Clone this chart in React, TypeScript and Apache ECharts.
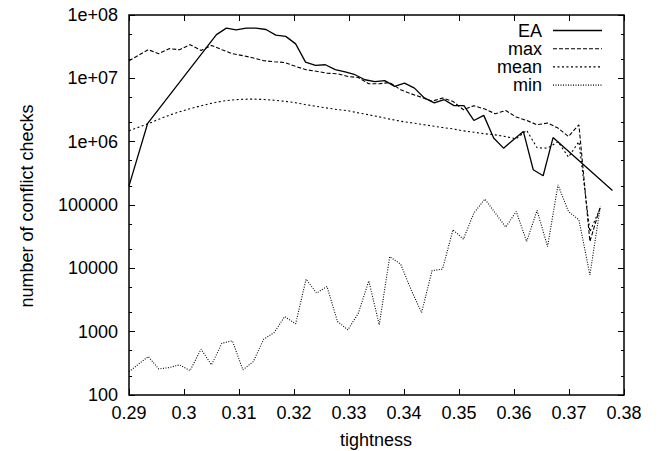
import React, { useEffect, useRef } from "react";
import * as echarts from "echarts";

// ---- data ----
const TIGHTNESS = [
  0.29, 0.2935, 0.2954, 0.2973, 0.2992, 0.3011, 0.3031, 0.305, 0.3069, 0.3088,
  0.3107, 0.3126, 0.3145, 0.3164, 0.3183, 0.3203, 0.3222, 0.3241, 0.326, 0.3279,
  0.3298, 0.3317, 0.3336, 0.3355, 0.3374, 0.3394, 0.3413, 0.3432, 0.3451, 0.347,
  0.3489, 0.3508, 0.3527, 0.3547, 0.3566, 0.3585, 0.3604, 0.3623, 0.3642, 0.3661,
  0.368, 0.3699, 0.3718, 0.3738, 0.3757,
];

const MAX_CHECKS = [
  1.9e7, 2.83e7, 2.45e7, 2.94e7, 2.83e7, 3.4e7, 2.76e7, 3.31e7, 2.83e7, 2.45e7,
  2.28e7, 2.1e7, 1.9e7, 1.83e7, 1.78e7, 1.54e7, 1.37e7, 1.29e7, 1.21e7, 1.18e7,
  1.07e7, 1.03e7, 8.2e6, 8.2e6, 8.6e6, 6.6e6, 5.7e6, 5.0e6, 4.35e6, 4.89e6,
  4.32e6, 3.19e6, 3.69e6, 3.27e6, 2.76e6, 3.11e6, 2.45e6, 2.16e6, 1.85e6, 1.97e6,
  1.64e6, 1.21e6, 1.85e6, 2.65e4, 9.5e4,
];

const MEAN_CHECKS = [
  1.49e6, 1.92e6, 2.26e6, 2.61e6, 2.97e6, 3.31e6, 3.69e6, 4.04e6, 4.35e6, 4.56e6,
  4.68e6, 4.7e6, 4.63e6, 4.51e6, 4.35e6, 4.12e6, 3.83e6, 3.6e6, 3.4e6, 3.21e6,
  3.08e6, 2.85e6, 2.66e6, 2.46e6, 2.27e6, 2.1e6, 1.99e6, 1.88e6, 1.77e6, 1.67e6,
  1.59e6, 1.48e6, 1.41e6, 1.33e6, 1.28e6, 1.2e6, 1.11e6, 1.51e6, 8.0e5, 7.9e5,
  1.0e6, 5.7e5, 1.0e6, 3.8e4, 9.0e4,
];

const MIN_CHECKS = [
  234, 405, 258, 271, 299, 243, 530, 299, 658, 716,
  249, 337, 762, 968, 1730, 1330, 6750, 4060, 5170, 1450,
  1070, 1960, 6350, 1280, 15300, 11600, 4570, 2000, 9200, 9700,
  40600, 28900, 74500, 124000, 74500, 44800, 79000, 26500, 82000, 22100,
  208000, 79000, 58300, 7900, 95000,
];

const EA_TIGHTNESS = [
  0.29, 0.2934, 0.3059, 0.3077, 0.3095, 0.3113, 0.3131, 0.3149, 0.3167, 0.3185,
  0.3203, 0.3221, 0.3239, 0.3257, 0.3275, 0.3293, 0.3311, 0.3329, 0.3347, 0.3365,
  0.3383, 0.3401, 0.3419, 0.3437, 0.3455, 0.3473, 0.3491, 0.3509, 0.3527, 0.3545,
  0.3563, 0.3581, 0.3599, 0.3617, 0.3635, 0.3653, 0.3671, 0.3779,
];

const EA_CHECKS = [
  2.0e5, 1.95e6, 4.9e7, 6.2e7, 5.8e7, 6.2e7, 6.2e7, 5.9e7, 4.8e7, 4.6e7,
  3.5e7, 1.8e7, 1.6e7, 1.64e7, 1.37e7, 1.26e7, 1.14e7, 9.5e6, 8.9e6, 9.2e6,
  7.45e6, 8.4e6, 7.0e6, 4.9e6, 4.1e6, 4.6e6, 3.7e6, 3.7e6, 2.16e6, 2.6e6,
  1.14e6, 7.9e5, 1.07e6, 1.45e6, 3.6e5, 2.9e5, 1.16e6, 1.7e5,
];

const SERIES_NAMES = ["EA", "max", "mean", "min"];
const Y_TICK_VALUES = [100, 1000, 10000, 100000, 1e6, 1e7, 1e8];
const Y_TICK_LABELS = ["100", "1000", "10000", "100000", "1e+06", "1e+07", "1e+08"];
const X_TITLE = "tightness";
const Y_TITLE = "number of conflict checks";

// minor ticks at 2x and 5x of each decade (in log10 units)
const MINOR_LOG: number[] = [];
for (let d = 2; d < 8; d++) {
  MINOR_LOG.push(d + Math.log10(2), d + Math.log10(5));
}

const FONT = "'Liberation Sans', Arial, Helvetica, sans-serif";

const pairs = (xs: number[], ys: number[]) => xs.map((x, i) => [x, ys[i]]);

const DASHES: Record<string, number[] | null> = {
  EA: null,
  max: [4, 2],
  mean: [2, 2.5],
  min: [1, 1.5],
};

export default function App() {
  const ref = useRef<HTMLDivElement>(null);

  useEffect(() => {
    if (!ref.current) return;
    const chart = echarts.init(ref.current, undefined, { renderer: "svg" });

    const yLabel = (v: number) => {
      const idx = Y_TICK_VALUES.findIndex((t) => Math.abs(Math.log10(t) - Math.log10(v)) < 1e-6);
      return idx >= 0 ? Y_TICK_LABELS[idx] : "";
    };

    const lineStyleFor = (name: string) => {
      const dash = DASHES[name];
      return {
        color: "#000",
        width: name === "EA" ? 1.3 : 1.1,
        type: dash ? dash : "solid",
      };
    };

    const legendTop = 30.5;
    const legendStep = 18.2;
    const legendGraphics: any[] = [];
    SERIES_NAMES.forEach((name, i) => {
      const y = legendTop + i * legendStep;
      legendGraphics.push({
        type: "text",
        x: 542,
        y,
        style: {
          text: name,
          fill: "#000",
          font: `18px ${FONT}`,
          textAlign: "right",
          textVerticalAlign: "middle",
        },
      });
      const dash = DASHES[name];
      legendGraphics.push({
        type: "line",
        shape: { x1: 553, y1: y, x2: 602, y2: y },
        style: {
          stroke: "#000",
          lineWidth: name === "EA" ? 1.3 : 1.1,
          lineDash: dash ? dash : null,
        },
      });
    });

    const option: any = {
      animation: false,
      backgroundColor: "#fff",
      grid: {
        left: 129,
        top: 15,
        right: 41,
        bottom: 56,
        show: true,
        borderColor: "#000",
        borderWidth: 1.5,
        backgroundColor: "transparent",
      },
      xAxis: [
        {
          type: "value",
          min: 0.29,
          max: 0.38,
          interval: 0.01,
          axisLine: { show: false },
          splitLine: { show: false },
          axisTick: { show: true, inside: true, length: 6, lineStyle: { color: "#000", width: 1 } },
          axisLabel: {
            color: "#000",
            fontFamily: FONT,
            fontSize: 18,
            margin: 9,
            formatter: (v: number) => String(Number(v.toFixed(2))),
          },
        },
        {
          type: "value",
          position: "top",
          min: 0.29,
          max: 0.38,
          interval: 0.01,
          axisLine: { show: false },
          splitLine: { show: false },
          axisTick: { show: true, inside: true, length: 6, lineStyle: { color: "#000", width: 1 } },
          axisLabel: { show: false },
        },
      ],
      yAxis: [
        {
          type: "log",
          logBase: 10,
          min: 100,
          max: 1e8,
          axisLine: { show: false },
          splitLine: { show: false },
          minorTick: { show: false },
          axisTick: { show: true, inside: true, length: 6, lineStyle: { color: "#000", width: 1 } },
          axisLabel: {
            color: "#000",
            fontFamily: FONT,
            fontSize: 18,
            margin: 11,
            formatter: yLabel,
          },
        },
        {
          type: "log",
          logBase: 10,
          position: "right",
          min: 100,
          max: 1e8,
          axisLine: { show: false },
          splitLine: { show: false },
          axisTick: { show: true, inside: true, length: 6, lineStyle: { color: "#000", width: 1 } },
          axisLabel: { show: false },
        },
        {
          type: "value",
          position: "left",
          min: 2,
          max: 8,
          axisLine: { show: false },
          splitLine: { show: false },
          axisTick: {
            show: true,
            inside: true,
            length: 3,
            customValues: MINOR_LOG,
            lineStyle: { color: "#000", width: 1 },
          },
          axisLabel: { show: false },
        },
        {
          type: "value",
          position: "right",
          min: 2,
          max: 8,
          axisLine: { show: false },
          splitLine: { show: false },
          axisTick: {
            show: true,
            inside: true,
            length: 3,
            customValues: MINOR_LOG,
            lineStyle: { color: "#000", width: 1 },
          },
          axisLabel: { show: false },
        },
      ],
      series: [
        {
          name: "EA",
          type: "line",
          data: pairs(EA_TIGHTNESS, EA_CHECKS),
          symbol: "none",
          lineStyle: lineStyleFor("EA"),
          silent: true,
        },
        {
          name: "max",
          type: "line",
          data: pairs(TIGHTNESS, MAX_CHECKS),
          symbol: "none",
          lineStyle: lineStyleFor("max"),
          silent: true,
        },
        {
          name: "mean",
          type: "line",
          data: pairs(TIGHTNESS, MEAN_CHECKS),
          symbol: "none",
          lineStyle: lineStyleFor("mean"),
          silent: true,
        },
        {
          name: "min",
          type: "line",
          data: pairs(TIGHTNESS, MIN_CHECKS),
          symbol: "none",
          lineStyle: lineStyleFor("min"),
          silent: true,
        },
      ],
      graphic: [
        {
          type: "text",
          x: 376,
          y: 440,
          style: {
            text: X_TITLE,
            fill: "#000",
            font: `18px ${FONT}`,
            textAlign: "center",
            textVerticalAlign: "middle",
          },
        },
        {
          type: "text",
          x: 27,
          y: 206,
          rotation: Math.PI / 2,
          style: {
            text: Y_TITLE,
            fill: "#000",
            font: `18px ${FONT}`,
            textAlign: "center",
            textVerticalAlign: "middle",
          },
        },
        ...legendGraphics,
      ],
    };

    chart.setOption(option);
    return () => chart.dispose();
  }, []);

  return (
    <div
      ref={ref}
      style={{ position: "absolute", left: 0, top: 0, width: 665, height: 451 }}
    />
  );
}
